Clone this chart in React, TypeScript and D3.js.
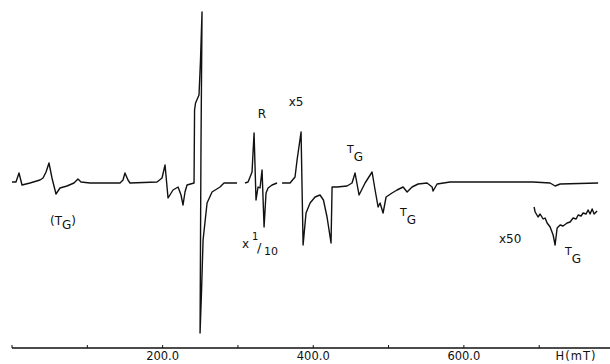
import React from 'react'
import * as d3 from 'd3'

// field (mT) and signal (arbitrary units, 0 = baseline) for each trace
const mainField = [0, 5.3, 9.3, 13.3, 23.9, 37.2, 41.2, 45.2, 49.1, 53.1, 58.4, 63.7, 73, 82.3, 87.6, 91.6, 103.6, 143.4, 147.4, 150, 154, 156.7, 192.6, 199.2, 203.2, 207.2, 213.8, 220.5, 224.4, 227.1, 229.7, 232.4, 241.7, 242.4, 243.7, 248.3, 250.3, 252.3, 250.9, 249.7, 251.7, 253.7, 259, 265.6, 276.2, 281.5, 286.9, 298.8]
const mainSignal = [1, 1, 10, -2, 0, 3, 5, 11, 20, 5, -11, -5, -3, 0, 4, 1, 0, 0, 3, 10, 3, 0, 1, 5, 18, -15, -7, -4, -12, -22, -9, -2, 0, 73, 80, 88, 123, 171, 33, -150, -107, -57, -20, -9, -4, 0, 0, 0]

const refField = [309.4, 313.4, 316.1, 318.7, 321.4, 324, 326.7, 329.3, 332, 334.7, 337.3, 340, 345.3, 351.9]
const refSignal = [0, 1, 6, 11, 50, -17, -4, -5, 13, -44, -10, -5, -2, 0]

const x5Field = [358.6, 369.2, 375.8, 378.5, 383.8, 386.5, 390.4, 395.8, 402.4, 409, 413.5, 418.3, 423.6, 425, 431.6, 444.9, 451.5, 455.5, 460.8, 468.8, 478.1, 482.1, 486.1, 488.7, 492.7, 496.7, 504.6, 511.3, 519.3, 524.6, 531.2, 539.2, 551.1, 557.8, 559.1, 564.4, 581.7, 691.9, 714.5, 721.1, 727.8, 778.2]
const x5Signal = [0, 0, 6, 23, 51, -62, -30, -20, -14, -12, -17, -34, -60, -4, -4, -3, 0, 10, -12, 0, 11, -7, -24, -20, -30, -14, -10, -7, -4, -9, -4, -1, 0, -4, -8, -1, 1, 1, 0, -3, -1, 0]

const x50Field = [693.2, 694.6, 698.5, 701.2, 705.2, 707.8, 710.5, 714.5, 718.5, 721.1, 723.8, 727.8, 731.7, 737, 741, 745, 749, 751.7, 755.6, 758.3, 762.3, 764.9, 767.6, 770.3, 772.9, 776.9]
const x50Signal = [-24, -29, -34, -31, -36, -35, -40, -44, -52, -62, -45, -42, -43, -40, -39, -35, -36, -32, -33, -30, -31, -27, -31, -26, -31, -28]

const tickValues = [0, 100, 200, 300, 400, 500, 600, 700]
const tickLabels = ['200.0', '400.0', '600.0']
const labelValues = [200, 400, 600]

const W = 610
const H = 364

export default function App() {
  const x = d3.scaleLinear().domain([0, 794]).range([12, 610])
  const y = d3.scaleLinear().domain([-150, 171]).range([333, 12])

  const line = d3
    .line<[number, number]>()
    .x(d => x(d[0]))
    .y(d => y(d[1]))

  const trace = (f: number[], s: number[]) => line(f.map((v, i) => [v, s[i]]) as [number, number][]) || ''

  const traces = [
    trace(mainField, mainSignal),
    trace(refField, refSignal),
    trace(x5Field, x5Signal),
    trace(x50Field, x50Signal),
  ]

  const axisY = 348
  const font = '"DejaVu Sans", sans-serif'

  return (
    <svg
      width={W}
      height={H}
      style={{ position: 'absolute', left: 0, top: 0, background: '#fff' }}
      fontFamily={font}
      fill="#111"
    >
      {traces.map((d, i) => (
        <path key={i} d={d} fill="none" stroke="#111" strokeWidth={1.4} strokeLinejoin="round" />
      ))}

      {/* field axis */}
      <line x1={x(0)} x2={W} y1={axisY} y2={axisY} stroke="#111" strokeWidth={1.4} />
      {tickValues.map(t => (
        <line key={t} x1={x(t)} x2={x(t)} y1={axisY} y2={axisY - 3} stroke="#111" strokeWidth={1} />
      ))}
      {labelValues.map((v, i) => (
        <text key={v} x={x(v)} y={360} textAnchor="middle" fontSize={11.5}>
          {tickLabels[i]}
        </text>
      ))}
      <text x={576} y={360} textAnchor="middle" fontSize={11.5} letterSpacing={1}>
        H(mT)
      </text>

      {/* annotations */}
      <text x={63} y={225} textAnchor="middle" fontSize={12}>
        (T<tspan dy={4}>G</tspan><tspan dy={-4}>)</tspan>
      </text>
      <text x={262} y={118} textAnchor="middle" fontSize={12}>R</text>
      <text x={296} y={106} textAnchor="middle" fontSize={12}>x5</text>
      <text x={242} y={248} fontSize={12}>
        x<tspan x={252} y={240} fontSize={10}>1</tspan>
        <tspan x={257} y={252} fontSize={13}>/</tspan>
        <tspan x={264} y={255} fontSize={11}>10</tspan>
      </text>
      <text x={347} y={153} fontSize={11}>
        T<tspan dy={8} fontSize={12}>G</tspan>
      </text>
      <text x={400} y={216} fontSize={11}>
        T<tspan dy={8} fontSize={12}>G</tspan>
      </text>
      <text x={499} y={243} fontSize={12}>x50</text>
      <text x={565} y={255} fontSize={11}>
        T<tspan dy={8} fontSize={12}>G</tspan>
      </text>
    </svg>
  )
}
